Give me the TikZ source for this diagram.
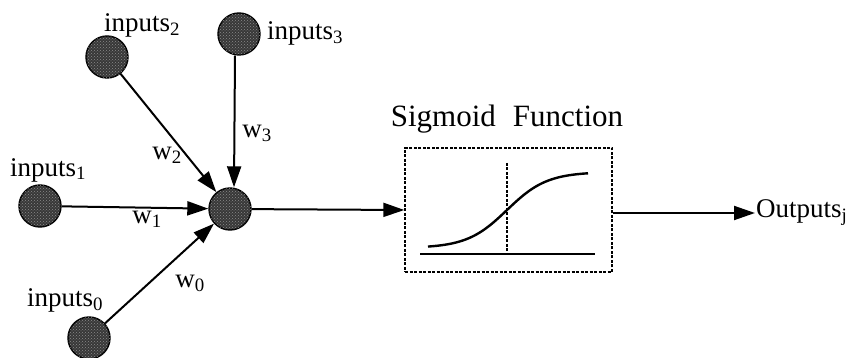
\documentclass[tikz,border=0pt]{standalone}
\usepackage{fontspec}
\setmainfont{Liberation Serif}
\usetikzlibrary{arrows.meta,patterns}
\begin{document}
\begin{tikzpicture}[x=1pt,y=-1pt,
  neuron/.style={circle, draw=black, line width=1.4pt, minimum size=42pt, inner sep=0pt,
    fill=black!78, postaction={pattern=crosshatch dots, pattern color=black!45}},
  lbl/.style={font=\fontsize{27}{31}\selectfont, inner sep=1pt},
  arr/.style={line width=2pt, -{Triangle[length=21pt,width=14pt]}},
  curve/.style={line width=2.4pt},
  dbox/.style={draw, line width=1.4pt, dash pattern=on 3pt off 1.5pt, minimum width=207pt, minimum height=124pt, inner sep=0pt}]
\useasboundingbox (0,0) rectangle (855,358);
% neurons
\node[neuron] (in2) at (107,57) {};
\node[neuron] (in3) at (239,34) {};
\node[neuron] (in1) at (40,206) {};
\node[neuron] (c) at (230,209) {};
\node[neuron] (in0) at (89,338) {};
% input labels
\node[lbl] (t2) at (142,25) {inputs\textsubscript{2}};
\node[lbl] (t3) at (305,33) {inputs\textsubscript{3}};
\node[lbl] (t1) at (48,170) {inputs\textsubscript{1}};
\node[lbl] (t0) at (65,300) {inputs\textsubscript{0}};
% weights
\node[lbl] (w2) at (167,155) {w\textsubscript{2}};
\node[lbl] (w3) at (257,133) {w\textsubscript{3}};
\node[lbl] (w1) at (147,219) {w\textsubscript{1}};
\node[lbl] (w0) at (190,283) {w\textsubscript{0}};
% input arrows
\draw[arr] (in2) -- (c);
\draw[arr] ([xshift=-4pt]in3.south) -- ([xshift=4pt]c.north);
\draw[arr] (in1) -- (c);
\draw[arr] (in0) -- (c);
% sigmoid box
\node[dbox] (sig) at (508.5,210) {};
\node[font=\fontsize{31}{36}\selectfont, inner sep=0pt] (title) at (507,119) {Sigmoid\hspace{0.55em}Function};
\draw[arr] (c) -- (sig.west);
\draw[line width=1.8pt] (420,254) -- (595,254);
\draw[line width=1.4pt, dash pattern=on 3pt off 1.5pt] (507,163) -- (507,254);
\draw[curve, domain=428:588, samples=80, smooth] plot (\x, {210-38*tanh((\x-507)/40)});
% output
\node[lbl, anchor=west] (out) at (755,213) {Outputs\textsubscript{j}};
\draw[arr] (sig.east |- out.west) -- (out.west);
\end{tikzpicture}
\end{document}
